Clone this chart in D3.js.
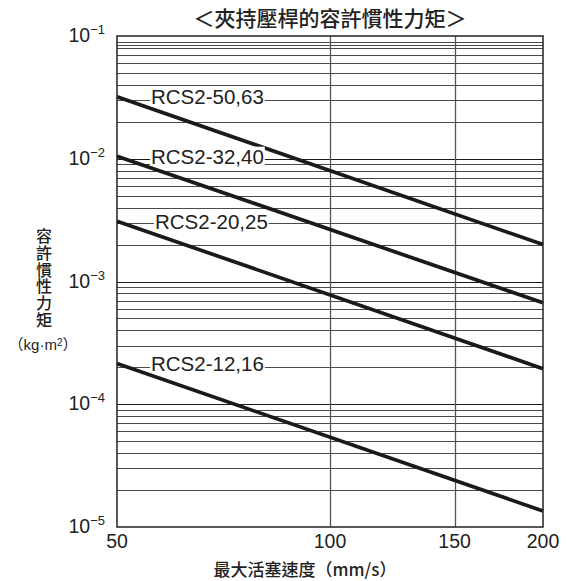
<!DOCTYPE html>
<html><head><meta charset="utf-8">
<script src="https://cdn.jsdelivr.net/npm/d3@7"></script>
<style>body{margin:0;background:#fff}</style>
</head><body><svg id="c" width="567" height="581"></svg>
<script>
const title = "＜夾持壓桿的容許慣性力矩＞";
const xLabel = "最大活塞速度（mm/s）";
const yLabel = "容許慣性力矩";
const yUnit = ["（", "kg·m", "2", "）"];
const seriesNames = ["RCS2-50,63","RCS2-32,40","RCS2-20,25","RCS2-12,16"];
const speeds = [50, 200];
const series1 = [0.032, 0.002];
const series2 = [0.0105, 0.00067];
const series3 = [0.0031, 0.000195];
const series4 = [0.000215, 0.0000135];
const xTicks = [50, 100, 150, 200];
const yDecades = [1e-1, 1e-2, 1e-3, 1e-4, 1e-5];
const yExponents = ["-1", "-2", "-3", "-4", "-5"];
const extraGrid = [0.085];

const allSeries = [series1, series2, series3, series4];
const W = 567, H = 581;
const m = {l: 117, r: 24, t: 36, b: 54};
const svg = d3.select("#c");
const x = d3.scaleLog().domain([50, 200]).range([m.l, W - m.r]);
const y = d3.scaleLog().domain([1e-5, 1e-1]).range([H - m.b, m.t]);
const latin = "'Liberation Sans', Arial, Helvetica, sans-serif";
const cjk = "'Noto Sans CJK TC', 'Noto Sans CJK JP', sans-serif";

const g = svg.append("g");
// horizontal grid
const hvals = y.ticks().concat(extraGrid).filter(v => v > 1.0001e-5 && v < 0.0999);
g.selectAll("line.h").data(hvals).join("line")
  .attr("x1", m.l).attr("x2", W - m.r)
  .attr("y1", d => Math.round(y(d)) + 0.5).attr("y2", d => Math.round(y(d)) + 0.5)
  .attr("stroke", d => yDecades.some(v => Math.abs(v - d) / v < 1e-6) ? "#1a1a1a" : "#4a4a4a")
  .attr("stroke-width", 1.1);
// vertical grid
g.selectAll("line.v").data(xTicks.slice(1, -1)).join("line")
  .attr("y1", m.t).attr("y2", H - m.b)
  .attr("x1", d => Math.round(x(d)) + 0.5).attr("x2", d => Math.round(x(d)) + 0.5)
  .attr("stroke", "#555").attr("stroke-width", 1.3);

// series lines
const line = d3.line().x((d, i) => x(speeds[i])).y(d => y(d));
g.selectAll("path.s").data(allSeries).join("path")
  .attr("d", d => line(d)).attr("fill", "none")
  .attr("stroke", "#1a1a1a").attr("stroke-width", 3.7);

// labels with white background
seriesNames.forEach((name, i) => {
  const gy = y(allSeries[i][0]);
  const lg = svg.append("g");
  const t = lg.append("text").attr("x", m.l + 34 + (i === 2 ? 4 : 0)).attr("y", gy)
    .attr("dominant-baseline", "central")
    .attr("font-family", latin).attr("font-size", 20.5).attr("fill", "#222")
    .text(name);
  const bb = t.node().getBBox();
  lg.insert("rect", "text").attr("x", bb.x - 1).attr("y", bb.y + 2)
    .attr("width", bb.width + 2).attr("height", bb.height - 4).attr("fill", "#fff");
});

// frame
svg.append("rect").attr("x", m.l).attr("y", m.t).attr("width", W - m.l - m.r)
  .attr("height", H - m.t - m.b).attr("fill", "none").attr("stroke", "#222").attr("stroke-width", 1.5);

// y tick labels
yDecades.forEach((v, i) => {
  const t = svg.append("text").attr("x", m.l - 12).attr("y", y(v) + 6)
    .attr("text-anchor", "end").attr("font-family", latin).attr("fill", "#222");
  t.append("tspan").attr("font-size", 19.5).text("10");
  t.append("tspan").attr("font-size", 13).attr("dy", -8).text(yExponents[i].replace("-", "−"));
});

// x tick labels
svg.selectAll("text.xt").data(xTicks).join("text")
  .attr("x", d => x(d)).attr("y", H - m.b + 21)
  .attr("text-anchor", "middle").attr("font-family", latin).attr("font-size", 19.5)
  .attr("fill", "#222").text(d => d);

// title
svg.append("text").attr("x", (m.l + W - m.r) / 2).attr("y", 26)
  .attr("text-anchor", "middle").attr("font-family", cjk).attr("font-size", 21)
  .attr("font-weight", 500).attr("fill", "#222").text(title);

// x label
svg.append("text").attr("x", 305).attr("y", 576)
  .attr("text-anchor", "middle").attr("font-family", cjk).attr("font-size", 17)
  .attr("font-weight", 500).attr("fill", "#222").text(xLabel);

// y label vertical
svg.append("text").attr("x", 44).attr("y", 228)
  .style("writing-mode", "vertical-rl")
  .attr("font-family", cjk).attr("font-size", 16).attr("letter-spacing", 0.8)
  .attr("font-weight", 500).attr("fill", "#222").text(yLabel);
const u = svg.append("text").attr("x", 43).attr("y", 350).attr("text-anchor", "middle")
  .attr("font-family", cjk).attr("font-size", 15).attr("fill", "#222");
u.append("tspan").text(yUnit[0]);
u.append("tspan").attr("font-family", latin).text(yUnit[1]);
u.append("tspan").attr("font-family", latin).attr("font-size", 10).attr("dy", -4).text(yUnit[2]);
u.append("tspan").attr("dy", 4).text(yUnit[3]);
</script></body></html>
